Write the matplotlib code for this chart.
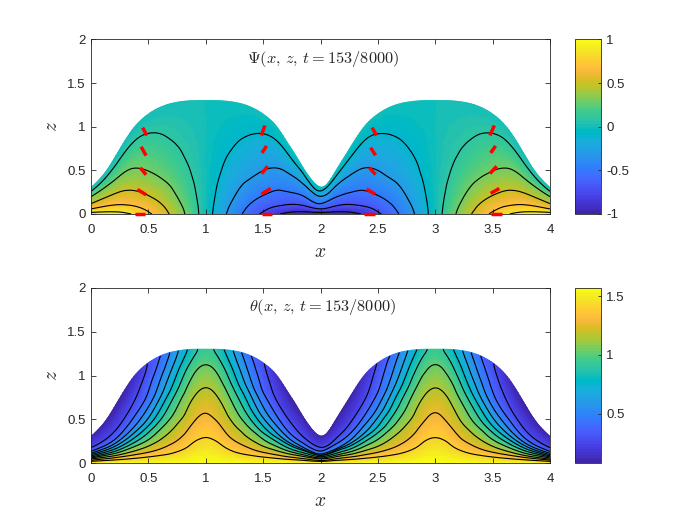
import numpy as np
import matplotlib
matplotlib.use("Agg")
import matplotlib.pyplot as plt
import matplotlib.tri as mtri
from matplotlib.colors import ListedColormap

# ---------- data ----------
# nodes over one quarter of the domain, x = 0 ... 1
x_half = [0, .125, .25, .375, .5, .625, .75, .875, 1]
surface_half = [.30, .475, .74, .99, 1.145, 1.235, 1.28, 1.298, 1.30]
# height each table column was read against (the interior stays at these heights)
read_height_half = [.30, .47, .70, .96, 1.12, 1.22, 1.27, 1.295, 1.30]
# fraction of the local height
eta = [0, .03, .07, .12, .2, .3, .4, .55, .7, .85, 1]

psi_half = [
    [.93, .92, .907, .83, .68, .58, .49, .39, .28, .10, 0],
    [.97, .94, .89, .81, .69, .61, .52, .39, .26, .12, 0],
    [1.0, .92, .85, .76, .66, .57, .48, .35, .23, .11, 0],
    [.88, .82, .74, .66, .565, .47, .40, .295, .20, .105, 0],
    [.75, .695, .65, .59, .495, .41, .325, .24, .16, .08, 0],
    [.57, .55, .52, .475, .40, .31, .26, .185, .115, .055, 0],
    [.42, .40, .365, .33, .28, .23, .185, .11, .07, .035, 0],
    [.21, .20, .19, .17, .145, .11, .09, .065, .045, .022, 0],
    [0, 0, 0, 0, 0, 0, 0, 0, 0, 0, 0],
]
theta_half = [
    [1.57, 1.49, 1.39, 1.25, 1.02, .70, .46, .28, .22, .16, .10],
    [1.57, 1.49, 1.38, 1.235, .98, .646, .42, .26, .20, .145, .09],
    [1.57, 1.48, 1.36, 1.21, .95, .66, .45, .295, .22, .15, .08],
    [1.57, 1.48, 1.35, 1.21, 1.01, .74, .555, .37, .265, .20, .13],
    [1.57, 1.49, 1.38, 1.25, 1.10, .915, .735, .515, .385, .33, .285],
    [1.57, 1.50, 1.41, 1.31, 1.195, 1.08, .955, .763, .60, .50, .41],
    [1.57, 1.52, 1.445, 1.375, 1.268, 1.184, 1.11, 1.0, .85, .73, .63],
    [1.57, 1.54, 1.51, 1.45, 1.38, 1.30, 1.24, 1.16, 1.08, .96, .83],
    [1.57, 1.56, 1.53, 1.50, 1.43, 1.375, 1.32, 1.235, 1.145, 1.06, .98],
]
psi_levels = [-.9, -.7, -.5, -.3, -.1, .1, .3, .5, .7, .9]
theta_levels = [.27, .395, .52, .646, .772, .897, 1.023, 1.149, 1.274, 1.4]

# red dashes: (x0, z0, x1, z1)
dashes = [
    (.385, 0, .47, 0), (.48, .22, .405, .281), (.48, .45, .43, .53), (.48, .67, .437, .77), (.487, .90, .45, .99),
    (1.49, 0, 1.58, 0), (1.487, .228, 1.566, .293), (1.487, .464, 1.54, .547), (1.49, .70, 1.53, .78), (1.484, .90, 1.516, 1.015),
    (2.382, 0, 2.475, 0), (2.475, .228, 2.402, .285), (2.48, .452, 2.425, .532), (2.48, .673, 2.437, .76), (2.49, .90, 2.449, .99),
    (3.483, 0, 3.58, 0), (3.483, .236, 3.558, .293), (3.477, .464, 3.535, .547), (3.483, .70, 3.526, .78), (3.477, .90, 3.515, 1.015),
]
titles = [r'$\Psi(x,\,z,\,t=153/8000)$', r'$\theta(x,\,z,\,t=153/8000)$']
x_ticks = [0, .5, 1, 1.5, 2, 2.5, 3, 3.5, 4]
x_ticklabels = ['0', '0.5', '1', '1.5', '2', '2.5', '3', '3.5', '4']
z_ticks = [0, .5, 1, 1.5, 2]
z_ticklabels = ['0', '0.5', '1', '1.5', '2']
cb1_ticks = [-1, -.5, 0, .5, 1]
cb1_ticklabels = ['-1', '-0.5', '0', '0.5', '1']
cb2_ticks = [.5, 1, 1.5]
cb2_ticklabels = ['0.5', '1', '1.5']

parula_colors = [
    (.2422, .1504, .6603), (.2504, .1650, .7076), (.2578, .1818, .7511), (.2647, .1978, .7952),
    (.2706, .2147, .8364), (.2751, .2342, .8710), (.2783, .2559, .8991), (.2803, .2782, .9221),
    (.2813, .3006, .9414), (.2810, .3228, .9579), (.2795, .3447, .9717), (.2760, .3667, .9829),
    (.2699, .3892, .9906), (.2602, .4123, .9952), (.2440, .4358, .9988), (.2206, .4603, .9973),
    (.1963, .4847, .9892), (.1834, .5074, .9798), (.1786, .5289, .9682), (.1764, .5499, .9520),
    (.1687, .5703, .9359), (.1540, .5902, .9218), (.1460, .6091, .9079), (.1380, .6276, .8973),
    (.1248, .6459, .8883), (.1113, .6635, .8763), (.0952, .6798, .8598), (.0689, .6948, .8394),
    (.0297, .7082, .8163), (.0036, .7203, .7917), (.0067, .7312, .7660), (.0433, .7411, .7394),
    (.0964, .7500, .7120), (.1408, .7584, .6842), (.1717, .7670, .6554), (.1938, .7758, .6251),
    (.2161, .7843, .5923), (.2470, .7918, .5567), (.2906, .7973, .5188), (.3406, .8008, .4789),
    (.3909, .8029, .4354), (.4456, .8024, .3909), (.5044, .7993, .3480), (.5616, .7942, .3045),
    (.6174, .7876, .2612), (.6720, .7793, .2227), (.7242, .7698, .1910), (.7738, .7598, .1646),
    (.8203, .7498, .1535), (.8634, .7406, .1596), (.9035, .7330, .1774), (.9393, .7288, .2100),
    (.9728, .7298, .2394), (.9956, .7434, .2371), (.9970, .7659, .2199), (.9952, .7893, .2028),
    (.9892, .8136, .1885), (.9786, .8386, .1766), (.9676, .8639, .1643), (.9610, .8890, .1537),
    (.9597, .9135, .1423), (.9628, .9373, .1265), (.9691, .9606, .1064), (.9769, .9839, .0805),
]
parula = ListedColormap(parula_colors, name='parula')

# ---------- build the domain from the mirror symmetries of the picture ----------
def unfold(half, sign_second=1.0):
    half = np.asarray(half, float)
    first = np.concatenate([half, sign_second * half[-2::-1]], axis=0)   # 0..2
    return np.concatenate([first, first[-2::-1]], axis=0)                # 0..4

def soften(field, wx=.2, we=.2):
    """Light render-time blur of the hand-read table, to remove reading jitter."""
    f = np.asarray(field, float)
    g = f.copy()
    g[1:-1, :] = wx * f[:-2, :] + (1 - 2 * wx) * f[1:-1, :] + wx * f[2:, :]
    g[0, :] = (1 - 2 * wx) * f[0, :] + 2 * wx * f[1, :]
    g[-1, :] = (1 - 2 * wx) * f[-1, :] + 2 * wx * f[-2, :]
    h = g.copy()
    h[:, 1:-1] = we * g[:, :-2] + (1 - 2 * we) * g[:, 1:-1] + we * g[:, 2:]
    return h

x_half = np.asarray(x_half)
x_nodes = np.concatenate([x_half, 2 - x_half[-2::-1]])
x_nodes = np.concatenate([x_nodes, 4 - x_nodes[-2::-1]])
surface = unfold(surface_half)
read_height = unfold(read_height_half)
psi = soften(unfold(psi_half, -1.0))
theta = soften(unfold(theta_half, 1.0), wx=.13, we=.15)
eta = np.asarray(eta)

Z = np.outer(read_height, eta) + np.outer(surface - read_height, eta ** 4)
X = np.repeat(x_nodes[:, None], eta.size, axis=1)
I, J = np.meshgrid(np.arange(x_nodes.size), np.arange(eta.size), indexing='ij')
base = mtri.Triangulation(I.ravel().astype(float), J.ravel().astype(float))
refiner = mtri.UniformTriRefiner(base)

def smooth(field):
    tri, values = refiner.refine_field(np.ravel(field), subdiv=3)
    return tri, values

ref_tri, z_fine = smooth(Z)
_, x_fine = smooth(X)
mesh = mtri.Triangulation(x_fine, z_fine, ref_tri.triangles)
_, psi_fine = smooth(psi)
_, theta_fine = smooth(theta)

# ---------- figure ----------
plt.rcParams['font.family'] = 'Liberation Sans'
plt.rcParams['mathtext.fontset'] = 'cm'
fig = plt.figure(figsize=(7, 5.25), dpi=100)
W, H = 700.0, 525.0
edge = '#262626'

def px_axes(x0, y0, x1, y1):
    return fig.add_axes([x0 / W, 1 - y1 / H, (x1 - x0) / W, (y1 - y0) / H])

panels = [
    (39.5, 214, psi_fine, -1, 1, psi_levels, cb1_ticks, cb1_ticklabels),
    (288, 463, theta_fine, .08, 1.57, theta_levels, cb2_ticks, cb2_ticklabels),
]
for k, (y0, y1, field, vmin, vmax, levels, cticks, clabels) in enumerate(panels):
    ax = px_axes(91, y0, 550, y1)
    pc = ax.tripcolor(mesh, field, shading='gouraud', cmap=parula, vmin=vmin, vmax=vmax, rasterized=True)
    ax.tricontour(mesh, field, levels=levels, colors='k', linewidths=.8, linestyles='solid')
    if k == 0:
        for x0_, z0_, x1_, z1_ in dashes:
            ax.plot([x0_, x1_], [z0_, z1_], color='#ff0000', lw=2.5, solid_capstyle='butt',
                    clip_on=False, zorder=5)
    ax.set_xlim(0, 4)
    ax.set_ylim(0, 2)
    ax.set_xticks(x_ticks, x_ticklabels)
    ax.set_yticks(z_ticks, z_ticklabels)
    ax.tick_params(direction='in', top=True, right=True, length=3.3, width=.6,
                   labelsize=9.5, color=edge, labelcolor=edge, pad=4)
    ax.tick_params(axis='x', pad=7)
    for s in ax.spines.values():
        s.set_linewidth(.6)
        s.set_color(edge)
    ax.set_xlabel(r'$x$', fontsize=14, labelpad=6, color=edge)
    ax.set_ylabel(r'$z$', fontsize=14, labelpad=4, color=edge)
    ax.text(2.02, 1.78, titles[k], ha='center', va='center', fontsize=11.8, color=edge)

    cax = px_axes(574.5, y0, 600.5, y1)
    cb = fig.colorbar(pc, cax=cax)
    cb.set_ticks(cticks, labels=clabels)
    cb.ax.tick_params(direction='in', length=2.5, width=.6, labelsize=9.5,
                      color=edge, labelcolor=edge, pad=4)
    cb.outline.set_linewidth(.6)
    cb.outline.set_edgecolor(edge)

fig.savefig('out.png', dpi=100)
